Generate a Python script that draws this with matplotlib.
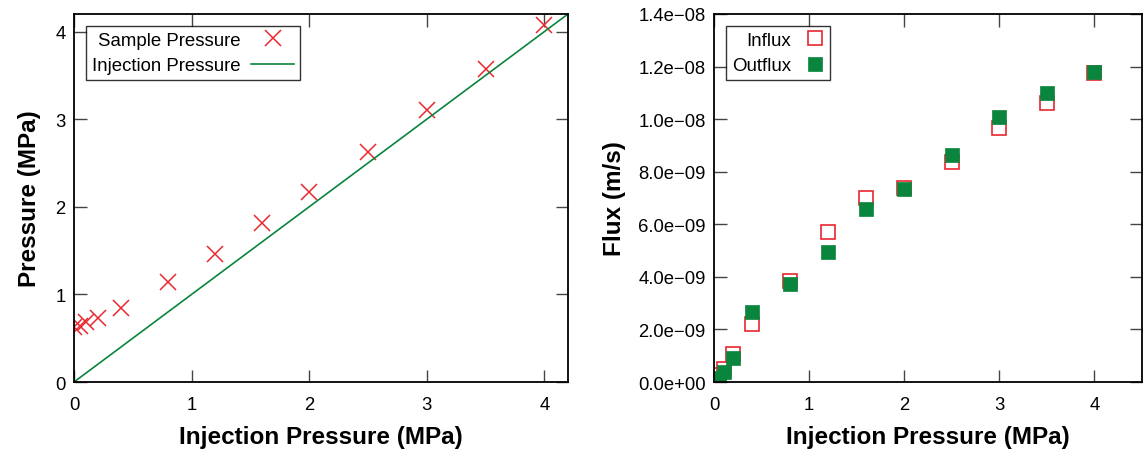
import numpy as np
import matplotlib
matplotlib.use("Agg")
from matplotlib import pyplot as plt

plt.rcParams['font.family'] = ['Liberation Sans', 'DejaVu Sans']

# left panel: sample pressure vs injection pressure
inj = [0, 0.05, 0.1, 0.2, 0.4, 0.8, 1.2, 1.6, 2.0, 2.5, 3.0, 3.5, 4.0]
sample = [0.63, 0.64, 0.68, 0.73, 0.84, 1.14, 1.46, 1.81, 2.17, 2.63, 3.10, 3.57, 4.08]
line_x = [0, 4.2]
line_y = [0, 4.2]

# right panel: flux (m/s)
influx = [0.0, 0.27e-9, 0.5e-9, 1.06e-9, 2.19e-9, 3.86e-9, 5.71e-9,
          6.99e-9, 7.39e-9, 8.36e-9, 9.68e-9, 10.63e-9, 11.75e-9]
outflux = [0.0, 0.15e-9, 0.38e-9, 0.91e-9, 2.65e-9, 3.72e-9, 4.94e-9,
           6.58e-9, 7.34e-9, 8.64e-9, 10.09e-9, 11.0e-9, 11.79e-9]
flux_ticks = [0, 2e-9, 4e-9, 6e-9, 8e-9, 1e-8, 1.2e-8, 1.4e-8]
flux_labels = ["0.0e+00", "2.0e\u221209", "4.0e\u221209", "6.0e\u221209",
               "8.0e\u221209", "1.0e\u221208", "1.2e\u221208", "1.4e\u221208"]

red = "#e8282e"
green = "#0a853d"

fig = plt.figure(figsize=(11.43, 4.52), dpi=100)
ax1 = fig.add_axes([74/1143, 1-383/452, (568-74)/1143, (383-15)/452])
ax2 = fig.add_axes([714/1143, 1-383/452, (1142-714)/1143, (383-15)/452])

def style(ax):
    ax.tick_params(direction="in", length=9, width=1, top=True, right=True,
                   labelsize=13.3, pad=6, color="#444444")
    ax.tick_params(axis="x", pad=10)
    for s in ax.spines.values():
        s.set_linewidth(1.3)

ax1.plot(inj, sample, ls="none", marker="x", ms=11, mew=1.1, color=red,
         label="Sample Pressure")
ax1.plot(line_x, line_y, color=green, lw=1.2, label="Injection Pressure")
ax1.set_xlim(0, 4.2)
ax1.set_ylim(0, 4.2)
ax1.set_xticks([0, 1, 2, 3, 4])
ax1.set_yticks([0, 1, 2, 3, 4])
ax1.set_xlabel("Injection Pressure (MPa)", fontsize=17.5, fontweight="bold", labelpad=9)
ax1.set_ylabel("Pressure (MPa)", fontsize=17.5, fontweight="bold", labelpad=10)
style(ax1)
ax1.legend(loc="upper left", markerfirst=False, frameon=True, fancybox=False,
           edgecolor="black", fontsize=13.4, borderaxespad=0.65, handlelength=2.3,
           labelspacing=0.45, borderpad=0.3, handletextpad=0.6).get_frame().set_linewidth(1.0)

ax2.plot(inj, influx, ls="none", marker="s", ms=9.5, mfc="white", mec=red, mew=1.2,
         label="Influx")
ax2.plot(inj, outflux, ls="none", marker="s", ms=10, mfc=green, mec=green, mew=0.5,
         label="Outflux")
ax2.set_xlim(0, 4.5)
ax2.set_ylim(0, 1.4e-8)
ax2.set_xticks([0, 1, 2, 3, 4])
ax2.set_yticks(flux_ticks)
ax2.set_yticklabels(flux_labels)
ax2.set_xlabel("Injection Pressure (MPa)", fontsize=17.5, fontweight="bold", labelpad=9)
ax2.set_ylabel("Flux (m/s)", fontsize=17.5, fontweight="bold", labelpad=9)
style(ax2)
ax2.legend(loc="upper left", markerfirst=False, frameon=True, fancybox=False,
           edgecolor="black", fontsize=13.4, borderaxespad=0.65, handlelength=1.0,
           labelspacing=0.45, borderpad=0.3, handletextpad=0.8).get_frame().set_linewidth(1.0)

fig.savefig("out.png", dpi=100)
